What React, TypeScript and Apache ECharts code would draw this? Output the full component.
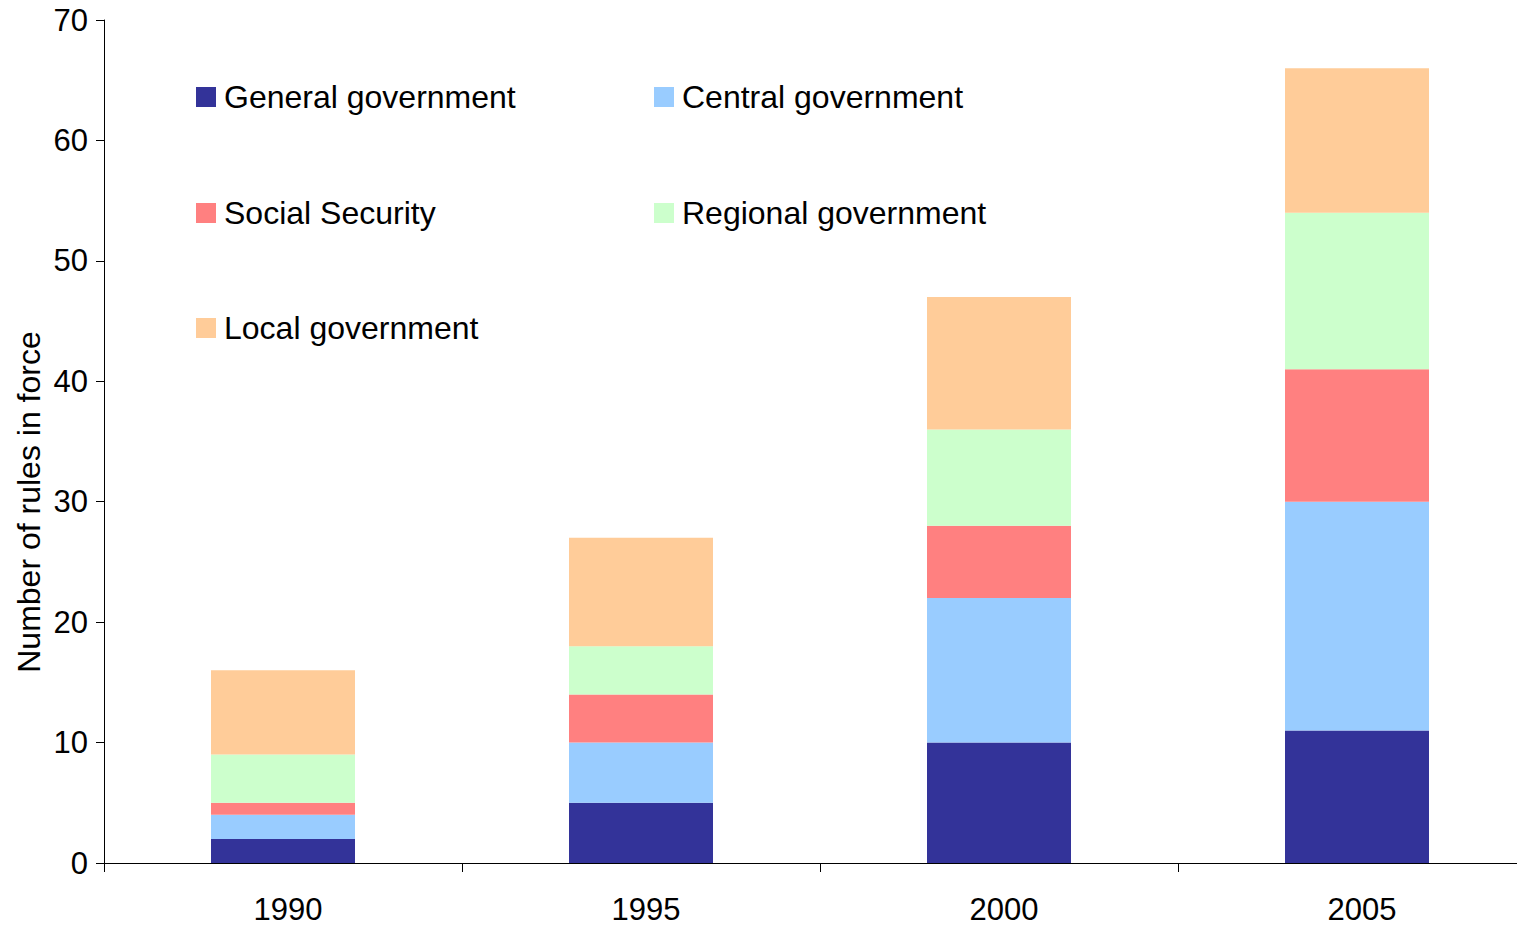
import React, { useEffect, useRef } from "react";
import * as echarts from "echarts";

const years = ["1990", "1995", "2000", "2005"];
const seriesNames = [
  "General government",
  "Central government",
  "Social Security",
  "Regional government",
  "Local government",
];
const generalGov = [2, 5, 10, 11];
const centralGov = [2, 5, 12, 19];
const socialSecurity = [1, 4, 6, 11];
const regionalGov = [4, 4, 8, 13];
const localGov = [7, 9, 11, 12];
const colors = ["#333399", "#99CCFF", "#FF8080", "#CCFFCC", "#FFCC99"];
const yTicks = { min: 0, max: 70, interval: 10 };

const FONT = "'Liberation Sans', Arial, sans-serif";

export default function App() {
  const ref = useRef<HTMLDivElement>(null);
  useEffect(() => {
    if (!ref.current) return;
    const chart = echarts.init(ref.current, undefined, { renderer: "svg" });
    const values = [generalGov, centralGov, socialSecurity, regionalGov, localGov];
    const legendPos = [
      { left: 196, top: 81 },
      { left: 654, top: 81 },
      { left: 196, top: 197 },
      { left: 654, top: 197 },
      { left: 196, top: 312 },
    ];
    chart.setOption({
      animation: false,
      textStyle: { fontFamily: FONT },
      grid: { left: 104, right: 24, top: 20, bottom: 63 },
      legend: seriesNames.map((n, i) => ({
        data: [n],
        left: legendPos[i].left,
        top: legendPos[i].top,
        padding: 0,
        itemWidth: 20,
        itemHeight: 20,
        icon: "rect",
        selectedMode: false,
        textStyle: {
          fontFamily: FONT,
          fontSize: 32,
          color: "#000",
          padding: [0, 0, 0, 3],
        },
      })),
      xAxis: {
        type: "category",
        data: years,
        boundaryGap: true,
        axisLine: { lineStyle: { color: "#000", width: 1 } },
        axisTick: { show: true, length: 9, lineStyle: { color: "#000" } },
        axisLabel: {
          fontFamily: FONT,
          fontSize: 31,
          color: "#000",
          margin: 31,
          padding: [0, 0, 0, 10],
        },
        splitLine: { show: false },
      },
      yAxis: {
        type: "value",
        min: yTicks.min,
        max: yTicks.max,
        interval: yTicks.interval,
        axisLine: { show: true, lineStyle: { color: "#000", width: 1 } },
        axisTick: { show: true, length: 8, lineStyle: { color: "#000" } },
        axisLabel: { fontFamily: FONT, fontSize: 31, color: "#000", margin: 16 },
        splitLine: { show: false },
      },
      graphic: [
        {
          type: "text",
          x: 29,
          y: 502,
          rotation: Math.PI / 2,
          style: {
            text: "Number of rules in force",
            fontFamily: FONT,
            fontSize: 32,
            fill: "#000",
            textAlign: "center",
            textVerticalAlign: "middle",
          },
        },
      ],
      series: seriesNames.map((n, i) => ({
        name: n,
        type: "bar",
        stack: "total",
        barWidth: 144,
        data: values[i],
        itemStyle: { color: colors[i] },
      })),
    });
    return () => chart.dispose();
  }, []);
  return (
    <div
      style={{
        position: "fixed",
        left: 0,
        top: 0,
        width: 1517,
        height: 926,
        overflow: "hidden",
        background: "#fff",
      }}
    >
      <div ref={ref} style={{ width: 1560, height: 926 }} />
    </div>
  );
}
